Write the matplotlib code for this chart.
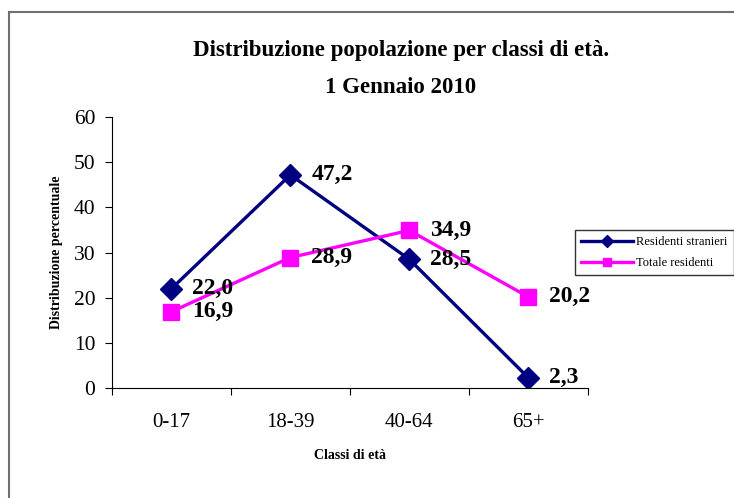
import matplotlib.pyplot as plt
from matplotlib.lines import Line2D

# Data
categories = ['0-17', '18-39', '40-64', '65+']
stranieri = [22.0, 47.2, 28.5, 2.3]
totale = [16.9, 28.9, 34.9, 20.2]
y_ticks = [0, 10, 20, 30, 40, 50, 60]

plt.rcParams['font.family'] = ['Liberation Serif', 'DejaVu Serif']

fig = plt.figure(figsize=(7.34, 4.98), dpi=100)
ax = fig.add_axes([0.1526, 0.2209, 0.648, 0.544])

x = list(range(len(categories)))
ax.plot(x, stranieri, color='#000080', linewidth=2.4, marker='D', markersize=11,
        label='Residenti stranieri')
ax.plot(x, totale, color='#FF00FF', linewidth=2.4, marker='s', markersize=12,
        label='Totale residenti')

for xi, v in zip(x, stranieri):
    ax.annotate(f'{v:.1f}'.replace('.', ','), (xi, v), xytext=(15, 0),
                textcoords='offset points', ha='left', va='center',
                fontsize=17, fontweight='bold')
for xi, v in zip(x, totale):
    ax.annotate(f'{v:.1f}'.replace('.', ','), (xi, v), xytext=(15, 0),
                textcoords='offset points', ha='left', va='center',
                fontsize=17, fontweight='bold')

ax.set_xlim(-0.5, 3.5)
ax.set_ylim(0, 60)
ax.set_yticks(y_ticks)
ax.tick_params(axis='y', labelsize=15.5, direction='out', length=5, pad=7)

# category boundaries as major ticks, labels on minor ticks
ax.set_xticks([i - 0.5 for i in range(len(categories) + 1)])
ax.set_xticklabels([])
ax.set_xticks(x, minor=True)
ax.set_xticklabels(categories, minor=True, fontsize=15)
ax.tick_params(axis='x', which='major', direction='out', length=5)
ax.tick_params(axis='x', which='minor', length=0, pad=18)

for s in ['top', 'right']:
    ax.spines[s].set_visible(False)
ax.spines['left'].set_color('black')
ax.spines['bottom'].set_color('black')

ax.set_xlabel('Classi di età', fontsize=10, fontweight='bold', labelpad=12)
ax.set_ylabel('Distribuzione percentuale', fontsize=10, fontweight='bold', labelpad=8)

fig.text(0.546, 0.898, 'Distribuzione popolazione per classi di età.',
         ha='center', va='center', fontsize=16.5, fontweight='bold')
fig.text(0.546, 0.825, '1 Gennaio 2010',
         ha='center', va='center', fontsize=16.5, fontweight='bold')

leg = ax.legend(loc='upper left', bbox_to_anchor=(0.783, 0.538),
                bbox_transform=fig.transFigure, fontsize=9, frameon=True,
                fancybox=False, edgecolor='black', handlelength=4.2,
                borderaxespad=0, borderpad=0.5, handletextpad=0.2,
                labelspacing=0.7)
leg.get_frame().set_linewidth(1.0)
for h in leg.legend_handles:
    h.set_markersize(6)

# outer frame (left and top edges visible)
fig.add_artist(Line2D([0.0125, 0.0125], [0.0, 0.976], transform=fig.transFigure,
                      color='#707070', linewidth=1.5))
fig.add_artist(Line2D([0.0125, 1.0], [0.976, 0.976], transform=fig.transFigure,
                      color='#707070', linewidth=1.5))

fig.savefig('out.png', dpi=100)
